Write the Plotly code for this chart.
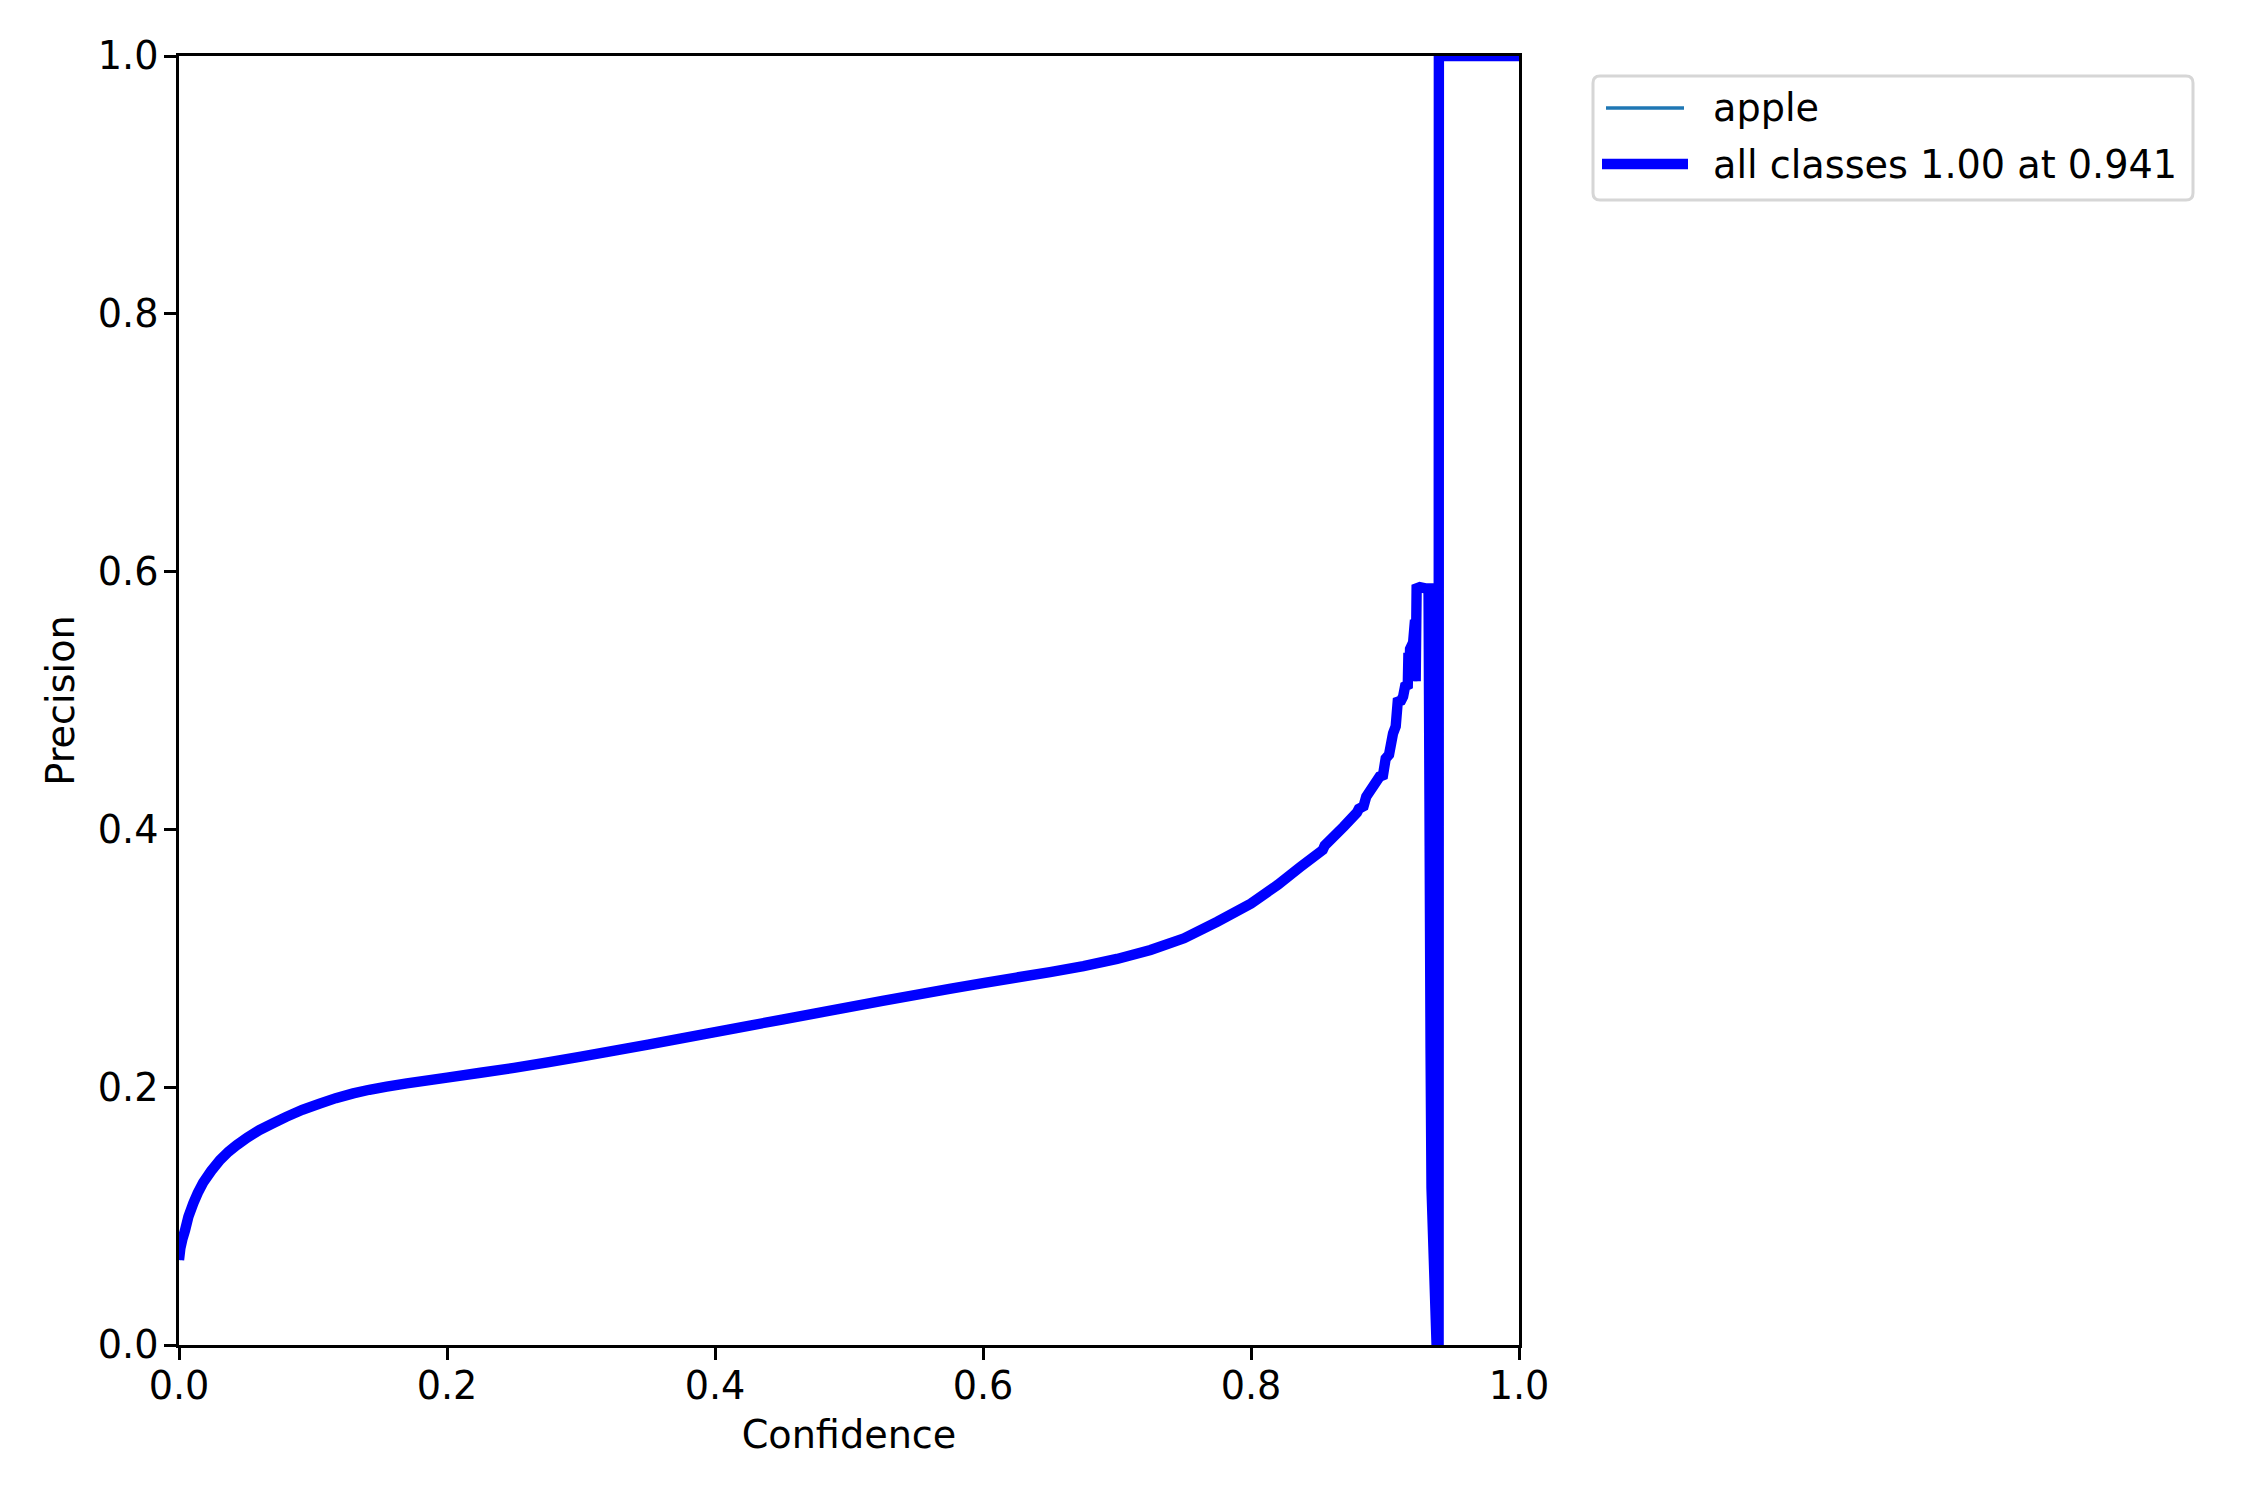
import plotly.graph_objects as go

# ---------------- data ----------------
conf = [0.0, 0.001, 0.0025, 0.0045, 0.007, 0.0107, 0.014, 0.018, 0.024, 0.0306,
        0.037, 0.043, 0.051, 0.060, 0.070, 0.080, 0.092, 0.105, 0.117, 0.130,
        0.142, 0.155, 0.170, 0.187, 0.200, 0.225, 0.250, 0.275, 0.300, 0.325,
        0.350, 0.375, 0.400, 0.425, 0.450, 0.475, 0.500, 0.525, 0.550, 0.575,
        0.600, 0.625, 0.650, 0.675, 0.700, 0.725, 0.750, 0.775, 0.800, 0.820,
        0.837, 0.8535, 0.855, 0.869, 0.879, 0.8805, 0.884, 0.886, 0.896, 0.8985,
        0.9005, 0.903, 0.906, 0.908, 0.9095, 0.912, 0.9135, 0.915, 0.917, 0.9175,
        0.918, 0.9187, 0.921, 0.9224, 0.9229, 0.9236, 0.9260, 0.9300, 0.9325, 0.9340,
        0.9347, 0.9385, 0.9400, 0.9402, 1.0]
precision_apple = [0.066, 0.075, 0.082, 0.089, 0.0995, 0.110, 0.118, 0.126, 0.135, 0.1435,
                   0.150, 0.155, 0.161, 0.1668, 0.172, 0.177, 0.1825, 0.1873, 0.1915, 0.1952,
                   0.1980, 0.2004, 0.2030, 0.2055, 0.2075, 0.2112, 0.2150, 0.2193, 0.2237, 0.2283,
                   0.2330, 0.2378, 0.2427, 0.2476, 0.2525, 0.2573, 0.2621, 0.2669, 0.2716, 0.2763,
                   0.2808, 0.2851, 0.2893, 0.2939, 0.2995, 0.3065, 0.3155, 0.3285, 0.3425, 0.357,
                   0.371, 0.384, 0.3875, 0.402, 0.413, 0.416, 0.418, 0.4254, 0.441, 0.442,
                   0.455, 0.458, 0.4745, 0.480, 0.499, 0.500, 0.503, 0.511, 0.512, 0.537,
                   0.515, 0.540, 0.545, 0.5625, 0.515, 0.587, 0.588, 0.587, 0.587, 0.230,
                   0.122, 0.0, 0.0, 1.0, 1.0]
precision_all = list(precision_apple)  # single class: mean equals the class curve

series_names = ["apple", "all classes 1.00 at 0.941"]
tick_vals = [0.0, 0.2, 0.4, 0.6, 0.8, 1.0]
tick_text = ["0.0", "0.2", "0.4", "0.6", "0.8", "1.0"]
x_title = "Confidence"
y_title = "Precision"

# ---------------- layout constants ----------------
OFF = 8                      # default page body margin
W, H = 2250 - 2 * OFF, 1500 - 2 * OFF
PL, PR, PT, PB = 179 - OFF, 1519 - OFF, 56 - OFF, 1345 - OFF
FONT = "DejaVu Sans"
FS = 38.2


def px(X):
    return (X - OFF - PL) / (PR - PL)


def py(Y):
    return (PB - (Y - OFF)) / (PB - PT)


fig = go.Figure()
fig.add_trace(go.Scatter(x=conf, y=precision_apple, mode="lines", name=series_names[0],
                         line=dict(color="#1f77b4", width=3.5, simplify=False),
                         showlegend=False, hoverinfo="skip"))
fig.add_trace(go.Scatter(x=conf, y=precision_all, mode="lines", name=series_names[1],
                         line=dict(color="#0000ff", width=10.4, simplify=False),
                         showlegend=False, hoverinfo="skip"))

axis_common = dict(
    range=[0, 1], tickmode="array", tickvals=tick_vals, ticktext=tick_text,
    showgrid=False, zeroline=False, showline=True, linecolor="black", linewidth=2.8,
    mirror=True, ticks="outside", ticklen=12, tickwidth=2.8, tickcolor="black",
    tickfont=dict(family=FONT, size=FS, color="black"),
)

fig.update_layout(
    width=W, height=H,
    margin=dict(l=PL, r=W - PR, t=PT, b=H - PB, pad=0),
    paper_bgcolor="white", plot_bgcolor="white",
    font=dict(family=FONT, size=FS, color="black"),
    xaxis=dict(**axis_common, ticklabelstandoff=-7,
               title=dict(text=x_title, font=dict(family=FONT, size=FS), standoff=15)),
    yaxis=dict(**axis_common, ticklabelstandoff=-2,
               title=dict(text=y_title, font=dict(family=FONT, size=FS), standoff=12)),
    showlegend=False,
)

# ---------------- manual legend (matplotlib style) ----------------
L, R, T, B, r = 1593, 2193, 76, 200, 7
path = (f"M {px(L + r)} {py(T)} L {px(R - r)} {py(T)} Q {px(R)} {py(T)} {px(R)} {py(T + r)} "
        f"L {px(R)} {py(B - r)} Q {px(R)} {py(B)} {px(R - r)} {py(B)} "
        f"L {px(L + r)} {py(B)} Q {px(L)} {py(B)} {px(L)} {py(B - r)} "
        f"L {px(L)} {py(T + r)} Q {px(L)} {py(T)} {px(L + r)} {py(T)} Z")
fig.add_shape(type="path", path=path, xref="paper", yref="paper",
              line=dict(color="#d6d6d6", width=3), fillcolor="rgba(255,255,255,0.8)",
              layer="above")
fig.add_shape(type="rect", xref="paper", yref="paper",
              x0=px(1606), x1=px(1684), y0=py(108 - 1.75), y1=py(108 + 1.75),
              fillcolor="#1f77b4", line=dict(width=0), layer="above")
fig.add_shape(type="rect", xref="paper", yref="paper",
              x0=px(1602), x1=px(1688), y0=py(164 - 5.2), y1=py(164 + 5.2),
              fillcolor="#0000ff", line=dict(width=0), layer="above")
for name, yc in zip(series_names, [108, 165]):
    fig.add_annotation(text=name, x=px(1711), y=py(yc), xref="paper", yref="paper",
                       xanchor="left", yanchor="middle", showarrow=False,
                       font=dict(family=FONT, size=FS, color="black"))

fig.write_html("out.html")
